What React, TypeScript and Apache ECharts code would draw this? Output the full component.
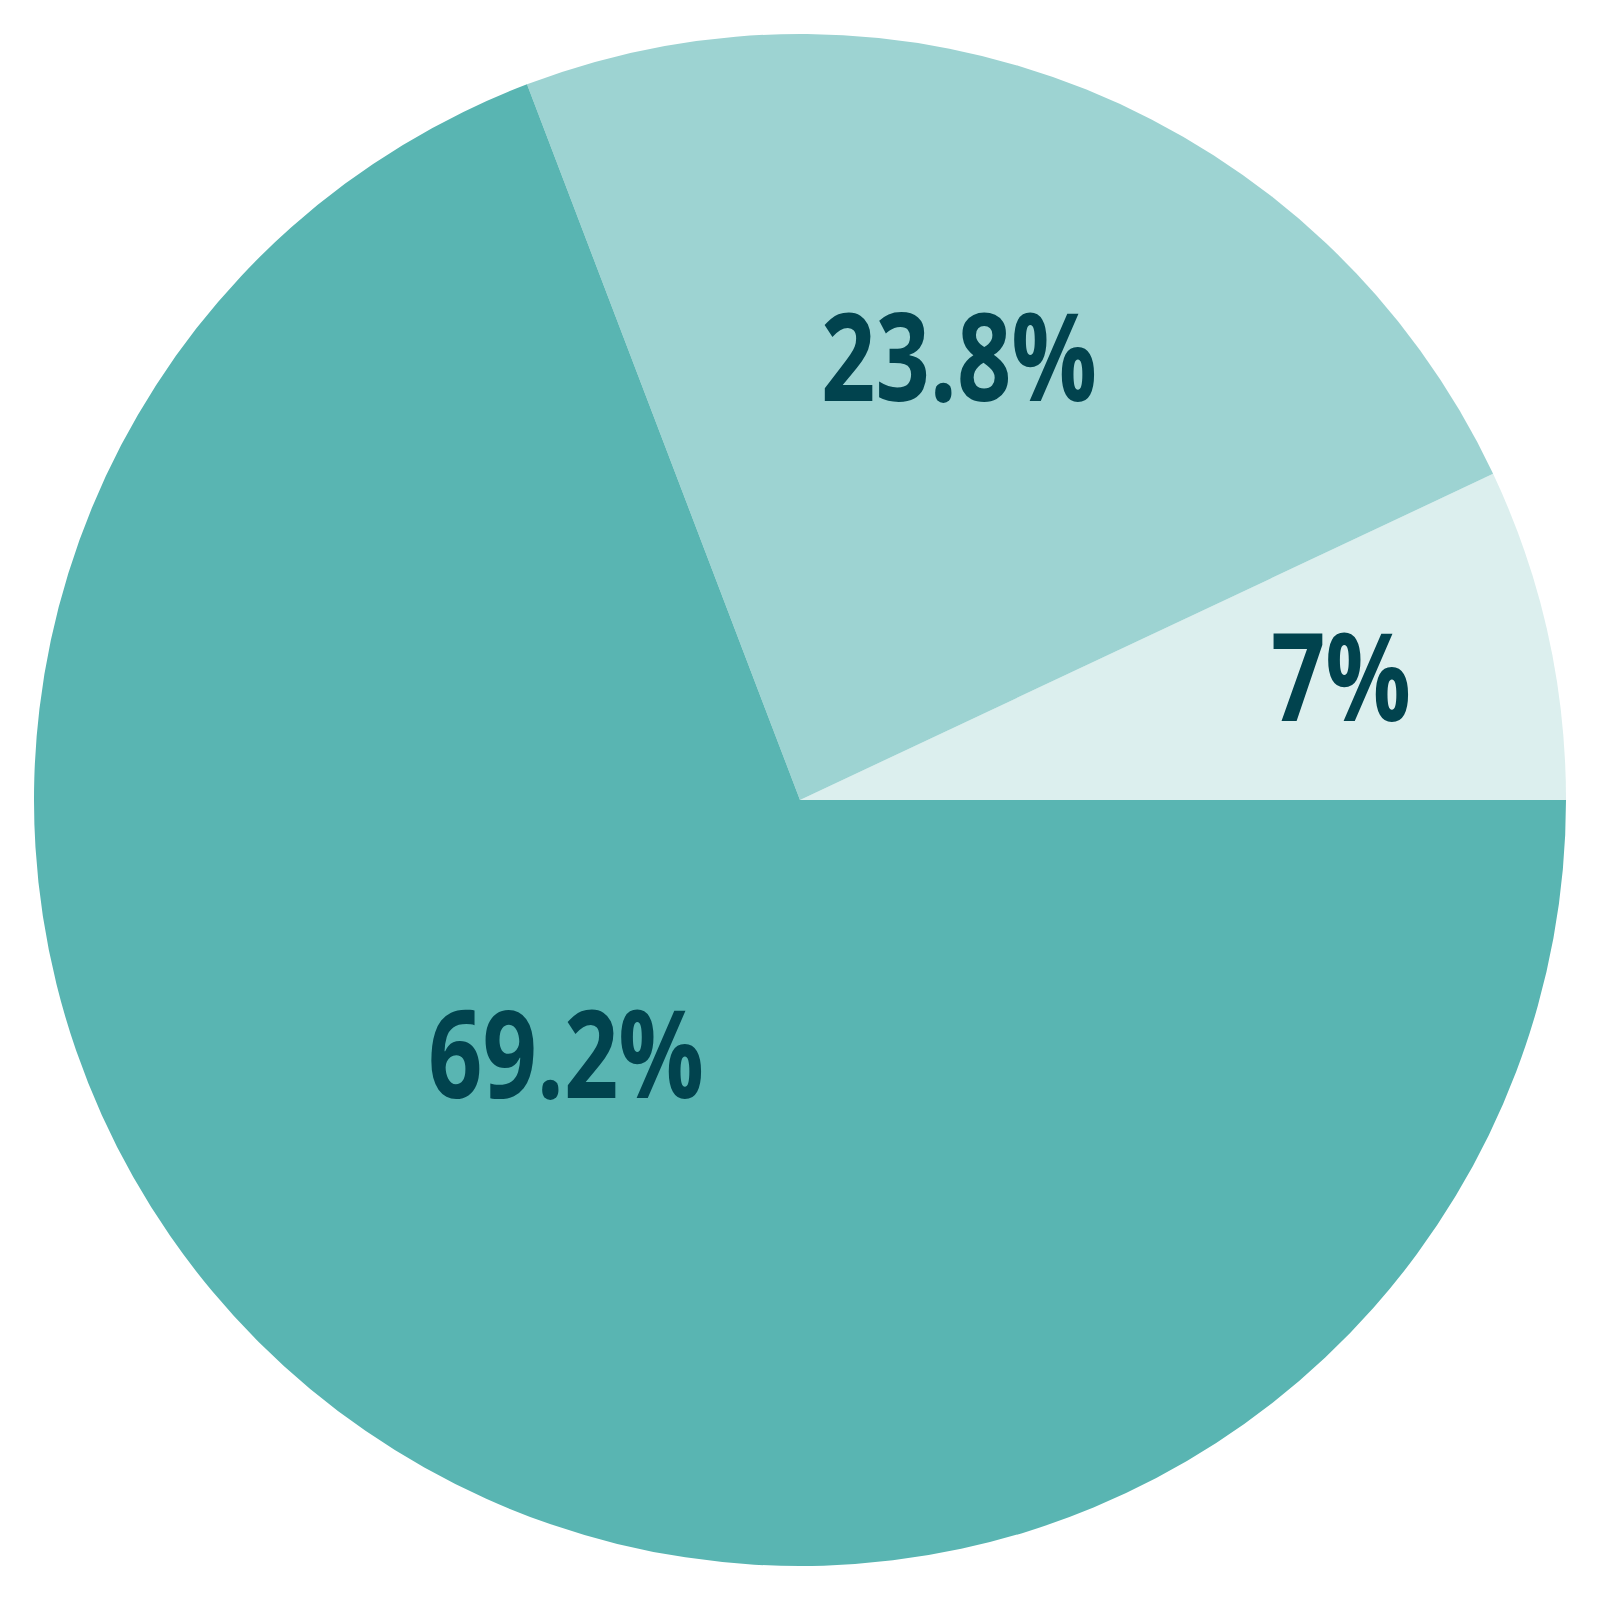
import React, { useEffect, useRef } from "react";
import * as echarts from "echarts";

const categories = ["A", "B", "C"];
const values = [7, 23.8, 69.2];
const colors = ["#DCEFEE", "#9DD3D2", "#59B5B2"];
const labelCenters: [number, number][] = [
  [1341, 674],
  [959, 354],
  [566, 1051],
];

export default function App() {
  const ref = useRef<HTMLDivElement>(null);
  useEffect(() => {
    if (!ref.current) return;
    const chart = echarts.init(ref.current, null, { renderer: "svg" });
    chart.setOption({
      animation: false,
      graphic: values.map((v, i) => ({
        type: "text",
        x: labelCenters[i][0],
        y: labelCenters[i][1],
        scaleX: 0.78,
        z: 100,
        silent: true,
        style: {
          text: `${v}%`,
          fill: "#01434E",
          fontFamily: "Open Sans",
          fontWeight: "bold",
          fontSize: 122,
          textAlign: "center",
          textVerticalAlign: "middle",
        },
      })),
      series: [
        {
          type: "pie",
          center: [800, 800],
          radius: [0, 766],
          startAngle: 0,
          clockwise: false,
          avoidLabelOverlap: false,
          silent: true,
          itemStyle: { borderWidth: 0 },
          label: { show: false },
          labelLine: { show: false },
          data: categories.map((c, i) => ({
            name: c,
            value: values[i],
            itemStyle: { color: colors[i] },
          })),
        },
      ],
    });
    return () => chart.dispose();
  }, []);
  return <div ref={ref} style={{ width: 1600, height: 1600, margin: -8 }} />;
}
